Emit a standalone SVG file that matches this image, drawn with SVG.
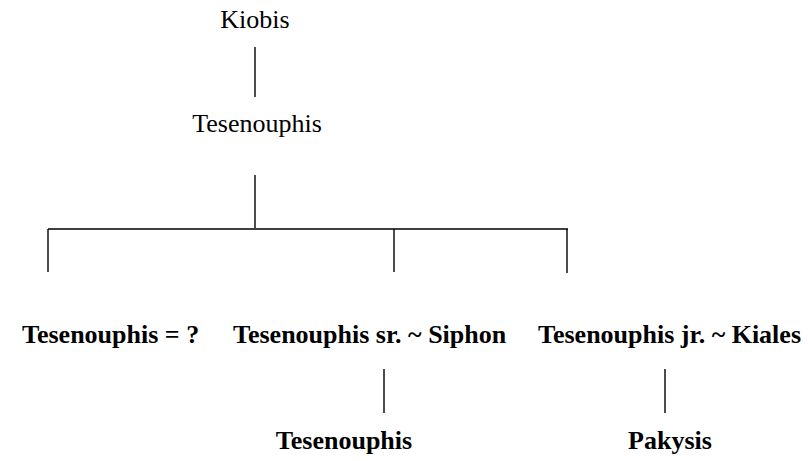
<svg xmlns="http://www.w3.org/2000/svg" width="808" height="461" viewBox="0 0 808 461">
  <style>
    .lbl { font-family: "Liberation Serif", "Times New Roman", serif; font-size: 26px; fill: #000; }
    .b { font-weight: bold; }
    .wire { stroke: #000; stroke-width: 1.4; fill: none; }
  </style>
  <rect width="808" height="461" fill="#fff"/>

  <g id="connectors">
    <line class="wire" x1="255" y1="47" x2="255" y2="97"/>
    <line class="wire" x1="255" y1="175" x2="255" y2="228"/>
    <line class="wire" x1="48" y1="229" x2="568" y2="229"/>
    <line class="wire" x1="48" y1="229" x2="48" y2="272"/>
    <line class="wire" x1="394" y1="229" x2="394" y2="272"/>
    <line class="wire" x1="567" y1="229" x2="567" y2="273"/>
    <line class="wire" x1="384" y1="369" x2="384" y2="413"/>
    <line class="wire" x1="665" y1="369" x2="665" y2="413"/>
  </g>

  <g id="kiobis"><text class="lbl" x="255" y="28" text-anchor="middle">Kiobis</text></g>
  <g id="tesenouphis-top"><text class="lbl" x="257" y="132" text-anchor="middle">Tesenouphis</text></g>
  <g id="tesenouphis-unknown"><text class="lbl b" x="22" y="343">Tesenouphis = ?</text></g>
  <g id="tesenouphis-sr"><text class="lbl b" x="233" y="343">Tesenouphis sr. ~ Siphon</text></g>
  <g id="tesenouphis-jr"><text class="lbl b" x="538" y="343">Tesenouphis jr. ~ Kiales</text></g>
  <g id="tesenouphis-bottom"><text class="lbl b" x="344" y="449" text-anchor="middle">Tesenouphis</text></g>
  <g id="pakysis"><text class="lbl b" x="670" y="449" text-anchor="middle">Pakysis</text></g>
</svg>
